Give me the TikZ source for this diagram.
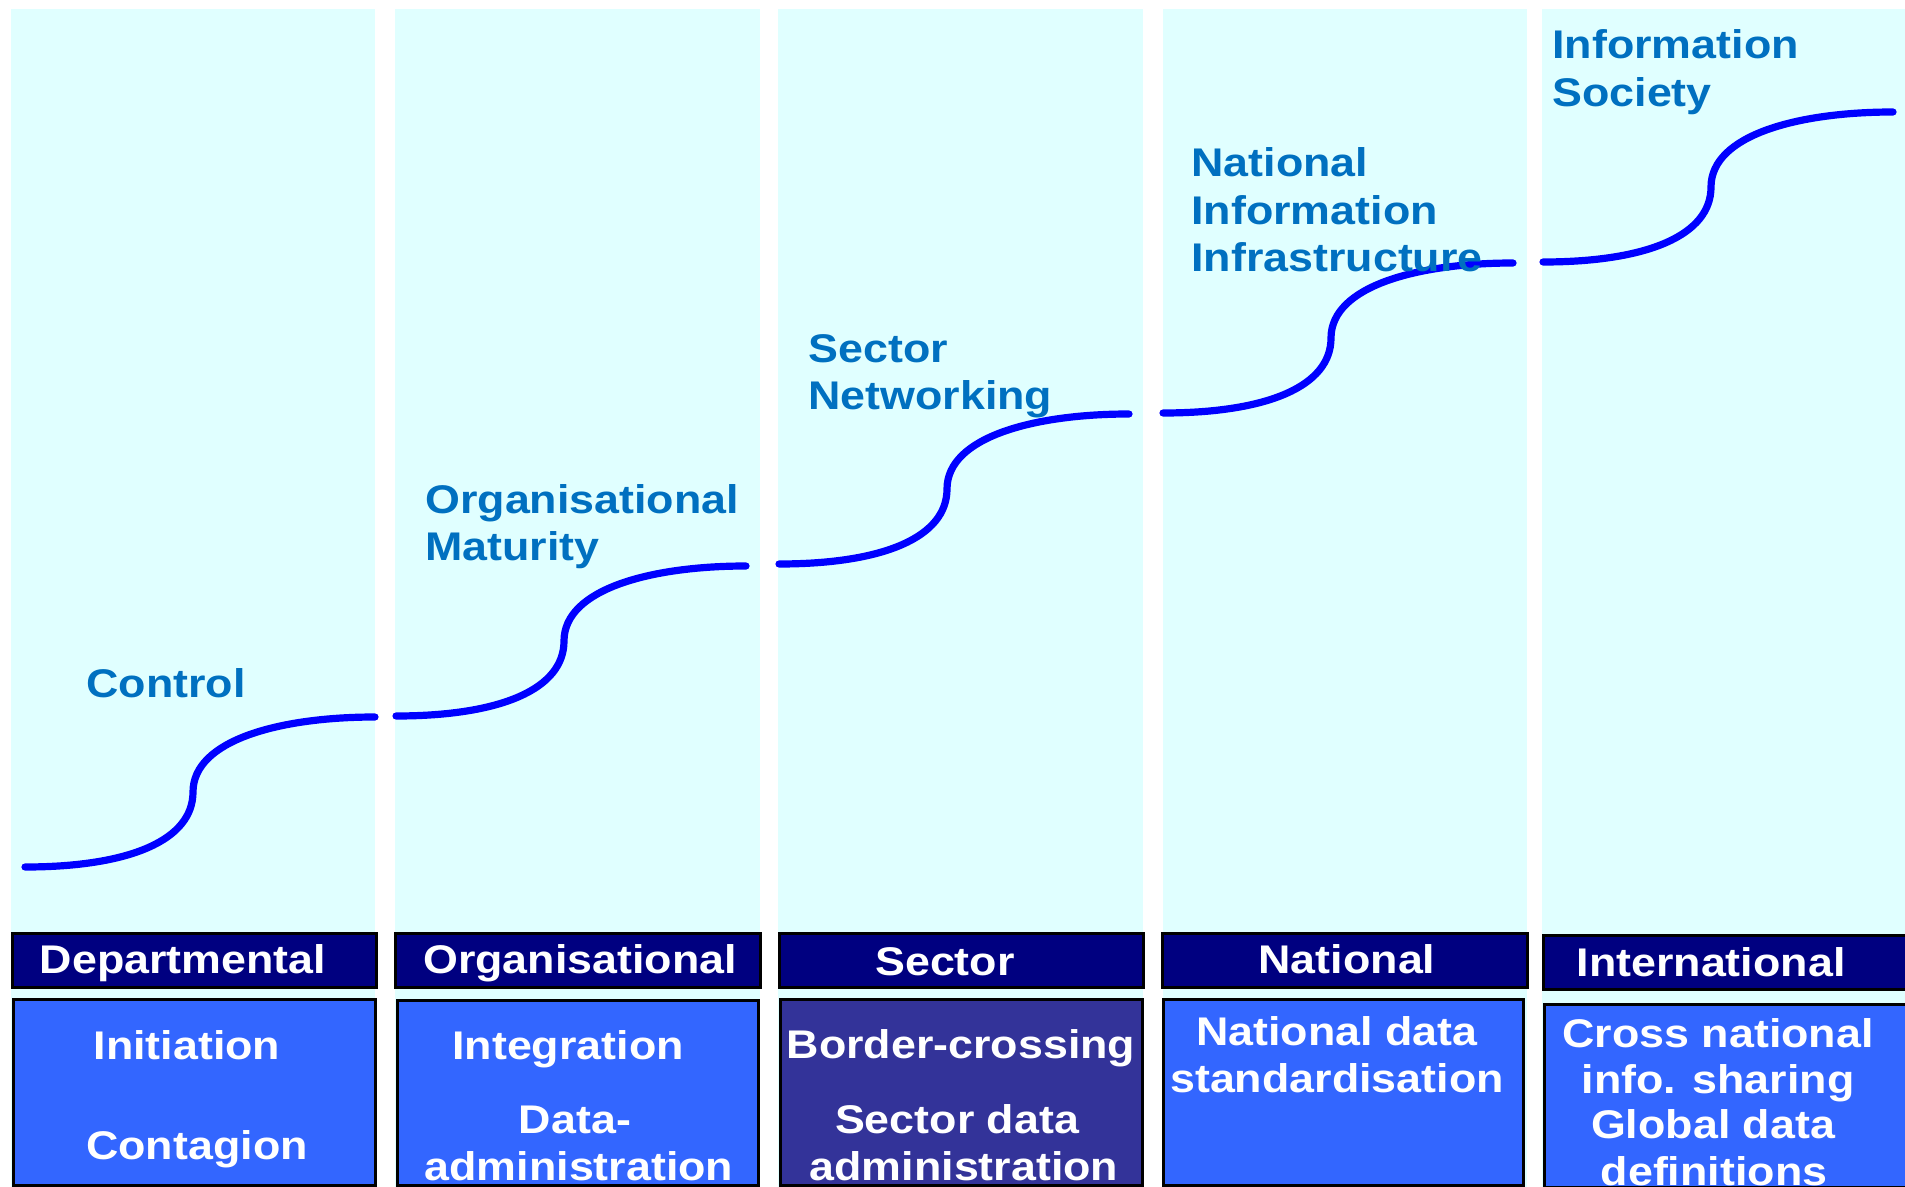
\documentclass[tikz,border=0pt]{standalone}
\usepackage{fontspec}
\setmainfont[FakeStretch=1.12]{Liberation Sans}
\definecolor{colbg}{HTML}{E0FFFF}
\definecolor{hdrfill}{HTML}{000080}
\definecolor{boxfill}{HTML}{3366FF}
\definecolor{boxdark}{HTML}{333399}
\definecolor{labblue}{HTML}{0070C0}
\definecolor{curveblue}{HTML}{0000FF}
\begin{document}
\begin{tikzpicture}[x=0.5pt,y=-0.5pt,
  colrect/.style={fill=colbg},
  hdrrect/.style={fill=hdrfill,draw=black,line width=1.5pt},
  boxrect/.style={fill=boxfill,draw=black,line width=1.5pt},
  txt/.style={inner sep=0pt,font=\fontsize{20pt}{23.5pt}\selectfont\bfseries},
  lab/.style={txt,text=labblue,anchor=base west},
  wtxt/.style={txt,text=white,anchor=base},
  curve/.style={draw=curveblue,line width=3.6pt,line cap=round}]
\useasboundingbox (0,0) rectangle (1905,1187);
\fill[white] (0,0) rectangle (1905,1187);
% columns
\fill[colrect] (11,9) rectangle (375,1187);
\fill[colrect] (395,9) rectangle (760,1187);
\fill[colrect] (778,9) rectangle (1143,1187);
\fill[colrect] (1163,9) rectangle (1527,1187);
\fill[colrect] (1542,9) rectangle (1905,1187);
% headers
\draw[hdrrect] (12,933) rectangle (376,987);
\draw[hdrrect] (395,933) rectangle (760,987);
\draw[hdrrect] (779,933) rectangle (1143,987);
\draw[hdrrect] (1162,933) rectangle (1527,987);
\draw[hdrrect] (1543,935) rectangle (1906,989);
% boxes
\draw[boxrect] (13,999) rectangle (375,1185);
\draw[boxrect] (397,1000) rectangle (758,1185);
\draw[boxrect,fill=boxdark] (780,999) rectangle (1142,1185);
\draw[boxrect] (1163,999) rectangle (1523,1185);
\draw[boxrect] (1544,1004) rectangle (1906,1187);
% curves
\foreach \L/\Y in {25/867, 396/716, 779/564, 1163/413, 1543/262}{
  \draw[curve] (\L,\Y) .. controls +(105,0) and +(0,48) .. ++(168,-75)
    .. controls +(0,-52) and +(-95,0) .. ++(182,-75);
}
% labels
\node[lab] (l1) at (86,697) {Control};
\node[lab] (l2a) at (425,513) {Organisational};
\node[lab] (l2b) at (425,560) {Maturity};
\node[lab] (l3a) at (808,363) {Sector};
\node[lab] (l3b) at (808,409) {Networking};
\node[lab] (l4a) at (1191,177) {National};
\node[lab] (l4b) at (1191,225) {Information};
\node[lab] (l4c) at (1191,272) {Infrastructure};
\node[lab] (l5a) at (1552,59) {Information};
\node[lab] (l5b) at (1552,107) {Society};
% header texts
\node[wtxt] (h1) at (183,973) {Departmental};
\node[wtxt] (h2) at (580,973) {Organisational};
\node[wtxt] (h3) at (945,975) {Sector};
\node[wtxt] (h4) at (1347,973) {National};
\node[wtxt] (h5) at (1711,976) {International};
% box texts
\node[wtxt] (b1a) at (187,1059) {Initiation};
\node[wtxt] (b1b) at (197,1159) {Contagion};
\node[wtxt] (b2a) at (568,1059) {Integration};
\node[wtxt] (b2b) at (575,1133) {Data-};
\node[wtxt] (b2c) at (579,1180) {administration};
\node[wtxt] (b3a) at (961,1058) {Border-crossing};
\node[wtxt] (b3b) at (957,1133) {Sector data};
\node[wtxt] (b3c) at (964,1180) {administration};
\node[wtxt] (b4a) at (1337,1045) {National data};
\node[wtxt] (b4b) at (1337,1092) {standardisation};
\node[wtxt] (b5a) at (1718,1047) {Cross national};
\node[wtxt] (b5b) at (1718,1093) {info. sharing};
\node[wtxt] (b5c) at (1713,1138) {Global data};
\node[wtxt] (b5d) at (1714,1185) {definitions};
\end{tikzpicture}
\end{document}
